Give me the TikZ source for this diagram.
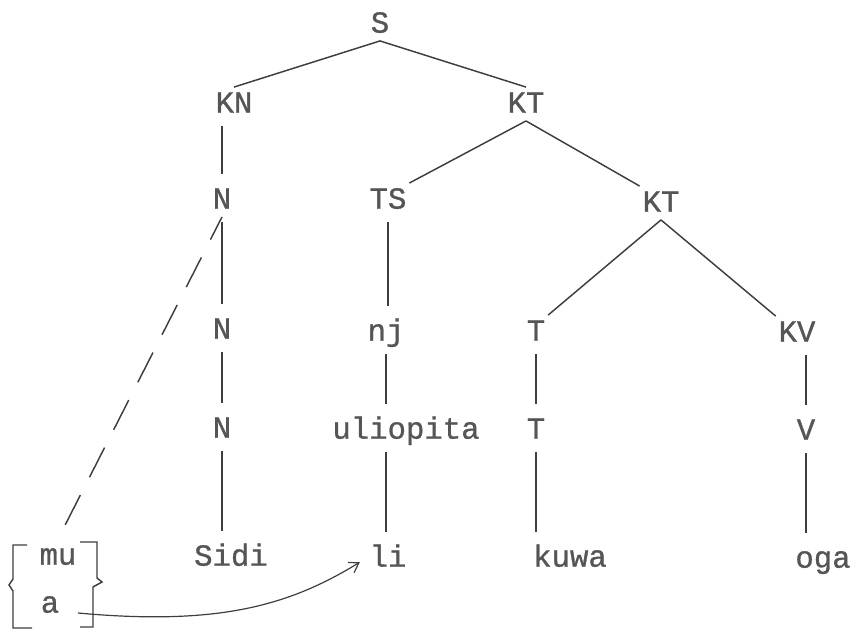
\documentclass[tikz,border=0pt]{standalone}
\usepackage{fontspec}
\usetikzlibrary{arrows.meta}
\newfontfamily\tw[FakeBold=0.9]{Liberation Mono}
\definecolor{txtgray}{HTML}{555555}
\definecolor{lngray}{HTML}{3E3E3E}
\tikzset{
	lbl/.style={text=txtgray, font=\tw\fontsize{23}{27}\selectfont, inner xsep=2pt, inner ysep=6pt, text height=13pt, text depth=0pt},
	branch/.style={draw=lngray, line width=1.1pt},
	stem/.style={branch, shorten <=4pt, shorten >=7pt},
	link/.style={branch, dash pattern=on 25pt off 15pt, shorten <=12pt},
	move/.style={branch, line width=0.9pt, -{Straight Barb[length=7pt,width=9pt]}, shorten >=6pt}
}
\begin{document}
\begin{tikzpicture}[x=0.75pt,y=-0.75pt]
	\useasboundingbox (0,0) rectangle (865,635);
	% tree
	\node[lbl] (S) at (380,24) {S};
	\node[lbl] (KN) at (234,104) {KN};
	\node[lbl] (KT) at (526,104) {KT};
	\node[lbl] (N1) at (222,200) {N};
	\node[lbl] (TS) at (388,200) {TS};
	\node[lbl] (KTb) at (661,203) {KT};
	\node[lbl] (N2) at (222,330) {N};
	\node[lbl] (nj) at (386,332) {nj};
	\node[lbl] (T1) at (536,332) {T};
	\node[lbl] (KV) at (797,333) {KV};
	\node[lbl] (N3) at (222,429) {N};
	\node[lbl] (uliopita) at (406,430) {uliopita};
	\node[lbl] (T2) at (536,430) {T};
	\node[lbl] (V) at (806,431) {V};
	\node[lbl] (Sidi) at (231,557) {Sidi};
	\node[lbl] (li) at (388,558) {li};
	\node[lbl] (kuwa) at (570,558) {kuwa};
	\node[lbl] (oga) at (823,559) {oga};
	\node[lbl] (mu) at (58,556) {mu};
	\node[lbl] (a) at (50,604) {a};
	\draw[branch] (S.south) -- (KN.north);
	\draw[branch] (S.south) -- (KT.north);
	\draw[branch] (KT.south) -- (TS.north east);
	\draw[branch] (KT.south) -- (KTb.north west);
	\draw[branch] (KTb.south) -- (T1.north east);
	\draw[branch] (KTb.south) -- (KV.north west);
	\draw[stem] (N1 |- KN.south) -- (N1.north);
	\draw[stem] (N1.south) -- (N2.north);
	\draw[stem] (N2.south) -- (N3.north);
	\draw[stem] (N3.south) -- (N3 |- Sidi.north);
	\draw[stem] (TS.south) -- (TS |- nj.north);
	\draw[stem] (nj.south) -- (nj |- uliopita.north);
	\draw[stem] (nj |- uliopita.south) -- (nj |- li.north);
	\draw[stem] (T1.south) -- (T2.north);
	\draw[stem] (T2.south) -- (T2 |- kuwa.north);
	\draw[stem] (V |- KV.south) -- (V.north);
	\draw[stem] (V.south) -- (V |- oga.north);
	% brackets, link and arrow
	\draw[branch] (27,545) -- (13,545) -- (13,579) -- (9,585) -- (13,591) -- (13,628) -- (32,628);
	\draw[branch] (80,542) -- (97,542) -- (97,578) -- (102,582) -- (93,587) -- (93,627) -- (80,627);
	\draw[link] (mu.north) -- (N1.south);
	\coordinate (adot) at (78,613);
	\draw[move] (adot) .. controls (220,626) and (290,605) .. (li.west);
\end{tikzpicture}
\end{document}
